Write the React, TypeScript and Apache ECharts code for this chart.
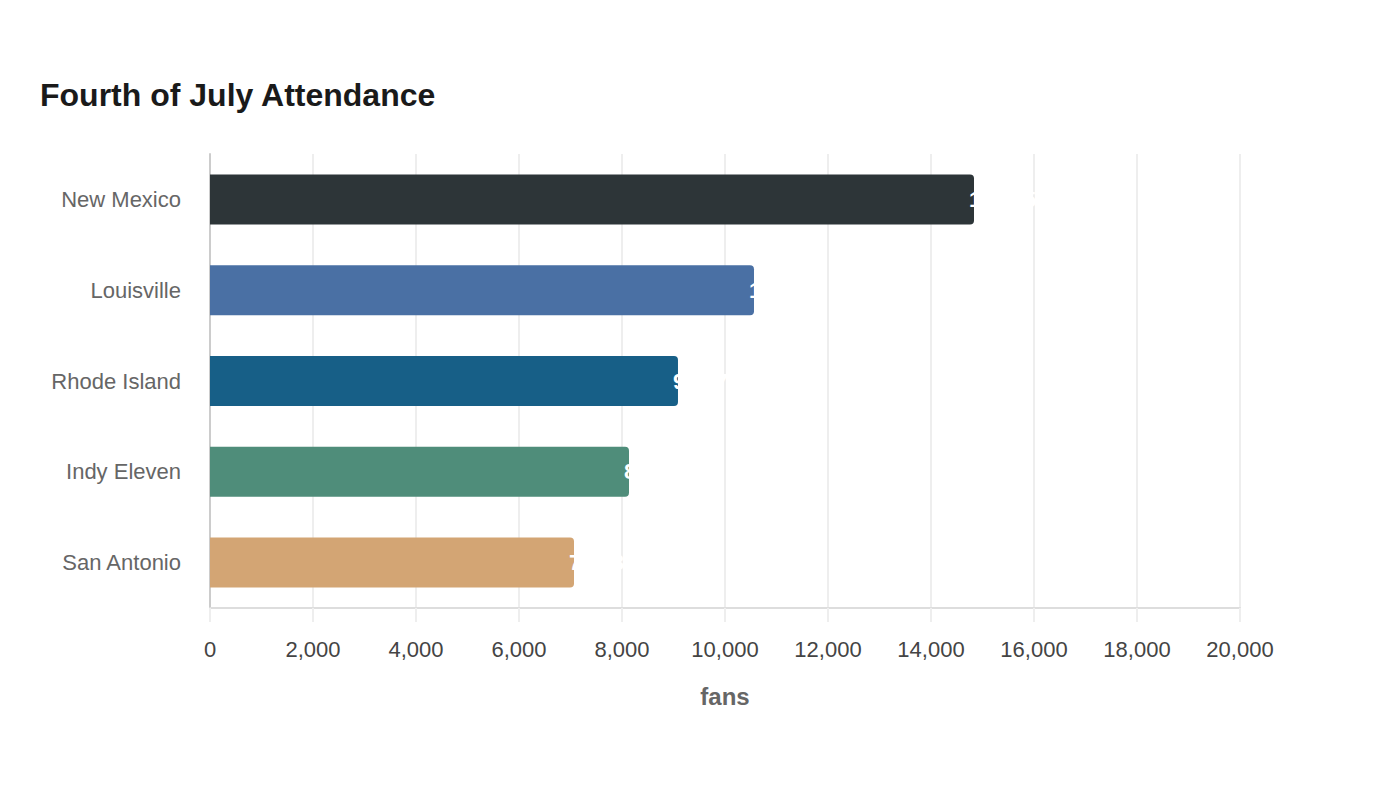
import React, { useEffect, useRef } from "react";
import * as echarts from "echarts";

const categories = ["New Mexico", "Louisville", "Rhode Island", "Indy Eleven", "San Antonio"];
const values = [14835, 10563, 9087, 8136, 7068];
const colors = ["#2d3538", "#4a70a4", "#175f87", "#4f8d7a", "#d3a574"];
const titleText = "Fourth of July Attendance";
const axisName = "fans";

export default function App() {
  const ref = useRef<HTMLDivElement>(null);
  useEffect(() => {
    if (!ref.current) return;
    const chart = echarts.init(ref.current, null, { renderer: "svg" });
    chart.setOption({
      animation: false,
      backgroundColor: "#ffffff",
      title: {
        text: titleText,
        left: 35,
        top: 74,
        textStyle: { fontFamily: "Liberation Sans, Arial, sans-serif", fontSize: 32, fontWeight: "bold", color: "#1a1a1a" },
      },
      grid: { left: 210, right: 160, top: 154, bottom: 192, containLabel: false },
      xAxis: {
        type: "value",
        min: 0,
        max: 20000,
        interval: 2000,
        name: axisName,
        nameLocation: "middle",
        nameGap: 76,
        nameTextStyle: { fontFamily: "Liberation Sans, Arial, sans-serif", fontSize: 24, fontWeight: "bold", color: "#666" },
        axisLine: { show: true, lineStyle: { color: "#dddddd", width: 2 } },
        axisTick: { show: true, length: 14, lineStyle: { color: "#eeeeee", width: 2 } },
        splitLine: { show: true, lineStyle: { color: "#eeeeee", width: 2 } },
        axisLabel: {
          margin: 30,
          fontFamily: "Liberation Sans, Arial, sans-serif",
          fontSize: 22,
          color: "#444",
          formatter: (v: number) => v.toLocaleString("en-US"),
        },
      },
      yAxis: {
        type: "category",
        data: categories,
        inverse: true,
        axisLine: { show: true, lineStyle: { color: "#cccccc", width: 2 } },
        axisTick: { show: false },
        axisLabel: {
          margin: 29,
          fontFamily: "Liberation Sans, Arial, sans-serif",
          fontSize: 22,
          color: "#666",
        },
      },
      series: [
        {
          type: "bar",
          barWidth: 50,
          data: values.map((v, i) => ({ value: v, itemStyle: { color: colors[i] } })),
          itemStyle: { borderRadius: [0, 4, 4, 0] },
          label: {
            show: true,
            position: "right",
            offset: [-10, 0],
            color: "#ffffff",
            fontFamily: "Liberation Sans, Arial, sans-serif",
            fontSize: 22,
            fontWeight: "bold",
            formatter: (p: any) => Number(p.value).toLocaleString("en-US"),
          },
        },
      ],
    });
    return () => chart.dispose();
  }, []);
  return <div ref={ref} style={{ width: 1400, height: 800, margin: -8 }} />;
}
